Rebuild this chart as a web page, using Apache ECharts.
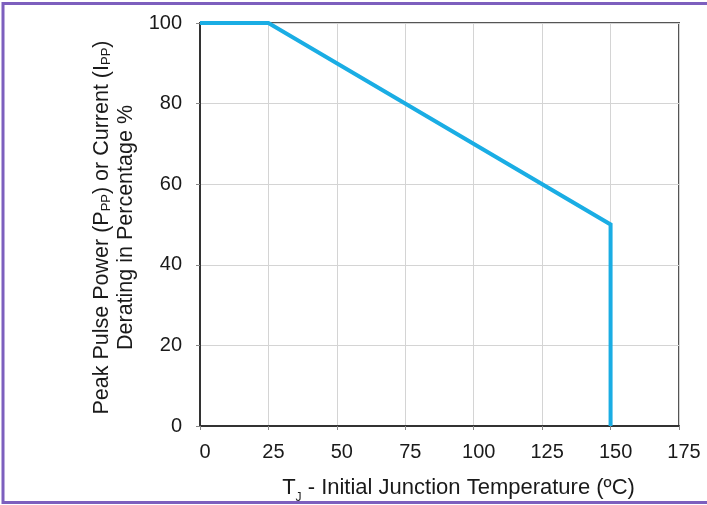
<!DOCTYPE html>
<html>
<head>
<meta charset="utf-8">
<script src="https://cdn.jsdelivr.net/npm/echarts@6/dist/echarts.min.js"></script>
<style>
html,body{margin:0;padding:0;background:#fff;}
#chart{width:707px;height:505px;}
</style>
</head>
<body>
<div id="chart"></div>
<script>
// Data
var temperatures = [0, 25, 150, 150];
var deratingPct = [100, 100, 50, 0];
var xTicks = [0, 25, 50, 75, 100, 125, 150, 175];
var yTicks = [0, 20, 40, 60, 80, 100];

var seriesData = temperatures.map(function (t, i) { return [t, deratingPct[i]]; });

var chart = echarts.init(document.getElementById('chart'), null, {renderer: 'canvas'});
var font = 'Liberation Sans, Arial, sans-serif';
chart.setOption({
  animation: false,
  backgroundColor: '#ffffff',
  graphic: [{
    type: 'rect',
    silent: true,
    z: 100,
    shape: {x: 3, y: 3.5, width: 800, height: 499},
    style: {fill: 'none', stroke: '#7d5fbe', lineWidth: 3}
  }],
  grid: {
    left: 200, right: 28, top: 23, bottom: 79,
    containLabel: false,
    outerBoundsMode: 'none',
    show: true, borderColor: '#555555', borderWidth: 2, backgroundColor: 'transparent'
  },
  xAxis: {
    type: 'value',
    min: xTicks[0], max: xTicks[xTicks.length - 1], interval: 25,
    axisLine: {show: true, onZero: false, lineStyle: {color: '#333333', width: 2}},
    axisTick: {show: true, inside: false, length: 4, lineStyle: {color: '#888888'}},
    splitLine: {show: true, lineStyle: {color: '#d4d4d4', width: 1}},
    axisLabel: {color: '#1a1a1a', fontSize: 20, fontFamily: font, margin: 16, padding: [0, 0, 0, 10]},
    name: '{a|T}{s|J}{a| - Initial Junction Temperature (ºC)}',
    nameLocation: 'middle',
    nameGap: 49,
    nameTextStyle: {
      color: '#1a1a1a', fontFamily: font, padding: [0, 0, 0, 38],
      rich: {
        a: {fontSize: 22, fontFamily: font, color: '#1a1a1a', lineHeight: 24, verticalAlign: 'bottom'},
        s: {fontSize: 12, fontFamily: font, color: '#1a1a1a', lineHeight: 10, verticalAlign: 'bottom', padding: [0, 0, -5, 0]}
      }
    }
  },
  yAxis: {
    type: 'value',
    min: yTicks[0], max: yTicks[yTicks.length - 1], interval: 20,
    axisLine: {show: true, onZero: false, lineStyle: {color: '#333333', width: 2}},
    axisTick: {show: true, inside: false, length: 4, lineStyle: {color: '#888888'}},
    splitLine: {show: true, lineStyle: {color: '#d4d4d4', width: 1}},
    axisLabel: {color: '#1a1a1a', fontSize: 20, fontFamily: font, margin: 18},
    name: '{a|Peak Pulse Power (P}{s|PP}{a|) or Current (I}{s|PP}{a|)}\n{a|Derating in Percentage %}',
    nameLocation: 'middle',
    nameRotate: 90,
    nameGap: 63,
    nameTextStyle: {
      color: '#1a1a1a', fontFamily: font, align: 'center', padding: [0, 6, 0, 0],
      rich: {
        a: {fontSize: 21.5, fontFamily: font, color: '#1a1a1a', lineHeight: 24, verticalAlign: 'bottom', align: 'center'},
        s: {fontSize: 13, fontFamily: font, color: '#1a1a1a', lineHeight: 13, verticalAlign: 'bottom', align: 'center'}
      }
    }
  },
  series: [{
    type: 'line',
    data: seriesData,
    showSymbol: false,
    symbol: 'none',
    lineStyle: {color: '#1aade4', width: 4, cap: 'butt', join: 'miter'},
    z: 5,
    clip: false
  }]
});
</script>
</body>
</html>
